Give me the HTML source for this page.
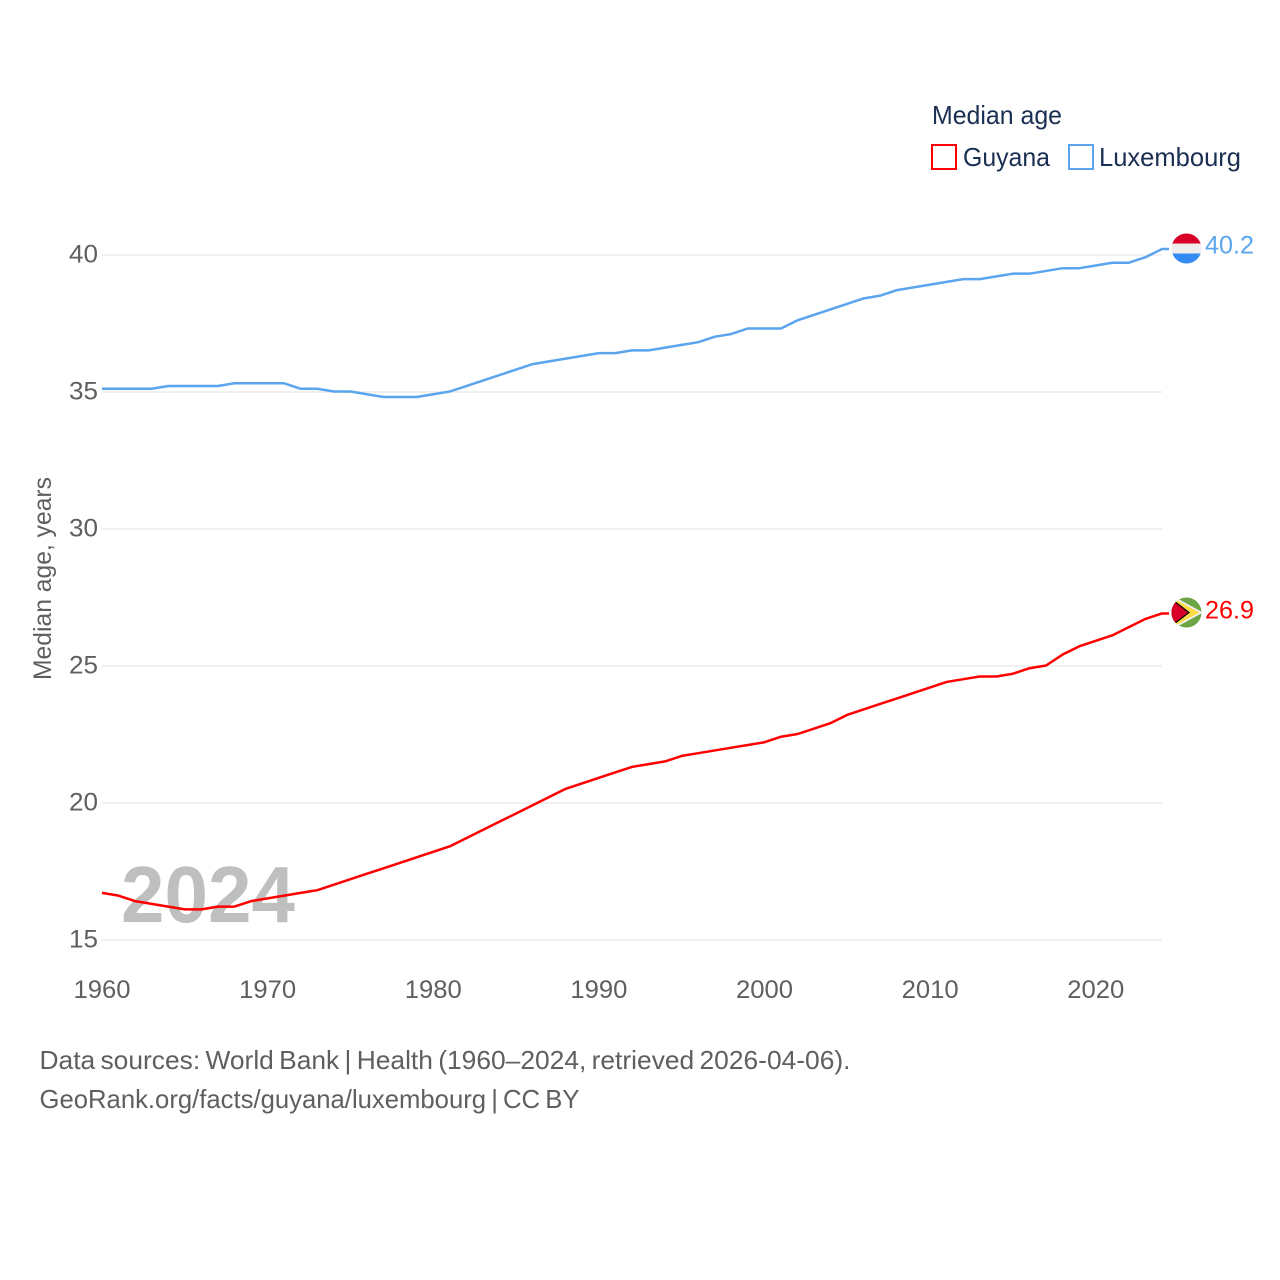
<!DOCTYPE html>
<html>
<head>
<meta charset="utf-8">
<style>
html,body{margin:0;padding:0;background:#fff;width:1280px;height:1280px;overflow:hidden}
svg{display:block}
text{font-family:"Liberation Sans",sans-serif}
</style>
</head>
<body>
<svg id="chart" xmlns="http://www.w3.org/2000/svg" width="1280" height="1280" viewBox="0 0 1280 1280">
  <defs>
    <clipPath id="flag-clip-lu"><circle cx="1186.5" cy="248.500" r="15"/></clipPath>
    <clipPath id="flag-clip-gy"><circle cx="1186.5" cy="612.500" r="15"/></clipPath>
  </defs>
  <g id="grid"></g>
  <g id="yticks"></g>
  <g id="xticks"></g>
  <text transform="translate(51,680) rotate(-90)" font-size="25" fill="#5f5f5f" textLength="203" lengthAdjust="spacingAndGlyphs">Median age, years</text>
  <text x="121" y="922" font-size="80" font-weight="bold" fill="#bfbfbf" textLength="174" lengthAdjust="spacingAndGlyphs">2024</text>
  <g id="series"></g>

  <g clip-path="url(#flag-clip-lu)">
    <rect x="1170" y="233" width="33" height="11" fill="#d80027"/>
    <rect x="1170" y="243.500" width="33" height="10" fill="#eeeeee"/>
    <rect x="1170" y="253.500" width="33" height="11" fill="#338af3"/>
  </g>
  <g clip-path="url(#flag-clip-gy)">
    <rect x="1170" y="597" width="33" height="32" fill="#6da544"/>
    <path d="M1171 595 L1203 612.500 L1171 630 Z" fill="#f0f0f0"/>
    <path d="M1171 597 L1199.500 612.500 L1171 628 Z" fill="#ffda44"/>
    <path d="M1171 598 L1190 612.500 L1171 627 Z" fill="#000000"/>
    <path d="M1171 599.500 L1188 612.500 L1171 625.500 Z" fill="#d80027"/>
  </g>

  <text x="1205" y="253.500" font-size="25" fill="#5ba4ee" textLength="49" lengthAdjust="spacingAndGlyphs">40.2</text>
  <text x="1205" y="618.500" font-size="25" fill="#ff0000" textLength="49" lengthAdjust="spacingAndGlyphs">26.9</text>

  <g>
    <text x="932" y="124" font-size="26" fill="#1a2f52" textLength="130" lengthAdjust="spacingAndGlyphs">Median age</text>
    <rect x="932" y="145" width="24" height="24" fill="#fff" stroke="#ff0000" stroke-width="2"/>
    <text x="963" y="166" font-size="26" fill="#1a2f52" textLength="87" lengthAdjust="spacingAndGlyphs">Guyana</text>
    <rect x="1069" y="145" width="24" height="24" fill="#fff" stroke="#5ba4ee" stroke-width="2"/>
    <text x="1099" y="166" font-size="26" fill="#1a2f52" textLength="142" lengthAdjust="spacingAndGlyphs">Luxembourg</text>
  </g>

  <text x="39.500" y="1069" font-size="26" fill="#5f5f5f" word-spacing="-2" textLength="811" lengthAdjust="spacingAndGlyphs">Data sources: World Bank | Health (1960–2024, retrieved 2026-04-06).</text>
  <text x="39.500" y="1108" font-size="26" fill="#5f5f5f" word-spacing="-2" textLength="540" lengthAdjust="spacingAndGlyphs">GeoRank.org/facts/guyana/luxembourg | CC BY</text>
</svg>
<script>
const years = [1960,1961,1962,1963,1964,1965,1966,1967,1968,1969,1970,1971,1972,1973,1974,1975,1976,1977,1978,1979,1980,1981,1982,1983,1984,1985,1986,1987,1988,1989,1990,1991,1992,1993,1994,1995,1996,1997,1998,1999,2000,2001,2002,2003,2004,2005,2006,2007,2008,2009,2010,2011,2012,2013,2014,2015,2016,2017,2018,2019,2020,2021,2022,2023,2024];
const luxembourgValues = [35.1,35.1,35.1,35.1,35.2,35.2,35.2,35.2,35.3,35.3,35.3,35.3,35.1,35.1,35.0,35.0,34.9,34.8,34.8,34.8,34.9,35.0,35.2,35.4,35.6,35.8,36.0,36.1,36.2,36.3,36.4,36.4,36.5,36.5,36.6,36.7,36.8,37.0,37.1,37.3,37.3,37.3,37.6,37.8,38.0,38.2,38.4,38.5,38.7,38.8,38.9,39.0,39.1,39.1,39.2,39.3,39.3,39.4,39.5,39.5,39.6,39.7,39.7,39.9,40.2];
const guyanaValues = [16.7,16.6,16.4,16.3,16.2,16.1,16.1,16.2,16.2,16.4,16.5,16.6,16.7,16.8,17.0,17.2,17.4,17.6,17.8,18.0,18.2,18.4,18.7,19.0,19.3,19.6,19.9,20.2,20.5,20.7,20.9,21.1,21.3,21.4,21.5,21.7,21.8,21.9,22.0,22.1,22.2,22.4,22.5,22.7,22.9,23.2,23.4,23.6,23.8,24.0,24.2,24.4,24.5,24.6,24.6,24.7,24.9,25.0,25.4,25.7,25.9,26.1,26.4,26.7,26.9];
const yTickValues = [15,20,25,30,35,40];
const xTickValues = [1960,1970,1980,1990,2000,2010,2020];

const SVG_NS = 'http://www.w3.org/2000/svg';
const plotLeft = 102, plotRight = 1162, plotTop = 254.5, plotBottom = 939.5;
function xScale(year) {
  return plotLeft + (year - 1960) * (plotRight - plotLeft) / (2024 - 1960);
}
function yScale(value) {
  return plotBottom - (value - 15) * (plotBottom - plotTop) / (40 - 15);
}

const gridGroup = document.getElementById('grid');
const yTickGroup = document.getElementById('yticks');
const xTickGroup = document.getElementById('xticks');
const seriesGroup = document.getElementById('series');

yTickValues.forEach(function (tick) {
  const gridLine = document.createElementNS(SVG_NS, 'line');
  
  
  gridLine.setAttribute('x1', plotLeft);
  gridLine.setAttribute('x2', plotRight);
  gridLine.setAttribute('y1', yScale(tick) + 0.5);
  gridLine.setAttribute('y2', yScale(tick) + 0.5);
  gridLine.setAttribute('stroke', '#f0f0f0');
  gridLine.setAttribute('stroke-width', '2');
  gridGroup.appendChild(gridLine);

  const label = document.createElementNS(SVG_NS, 'text');
  
  
  label.setAttribute('x', 69);
  label.setAttribute('y', yScale(tick) + 8);
  label.setAttribute('font-size', '25');
  label.setAttribute('fill', '#5f5f5f');
  label.setAttribute('textLength', '29');
  label.setAttribute('lengthAdjust', 'spacingAndGlyphs');
  label.textContent = tick;
  yTickGroup.appendChild(label);
});

xTickValues.forEach(function (tick) {
  const label = document.createElementNS(SVG_NS, 'text');
  
  
  label.setAttribute('x', xScale(tick) - 28.5);
  label.setAttribute('y', 998);
  label.setAttribute('font-size', '25');
  label.setAttribute('fill', '#5f5f5f');
  label.setAttribute('textLength', '57');
  label.setAttribute('lengthAdjust', 'spacingAndGlyphs');
  label.textContent = tick;
  xTickGroup.appendChild(label);
});

function drawSeries(values, color, name) {
  const pts = values.map(function (v, i) {
    return xScale(years[i]).toFixed(2) + ',' + yScale(v).toFixed(2);
  });
  const lastY = yScale(values[values.length - 1]).toFixed(2);
  const line = document.createElementNS(SVG_NS, 'polyline');
  
  
  line.setAttribute('points', pts.join(' ') + ' ' + (plotRight + 7) + ',' + lastY);
  line.setAttribute('fill', 'none');
  line.setAttribute('stroke', color);
  line.setAttribute('stroke-width', '2.5');
  line.setAttribute('stroke-linejoin', 'round');
  seriesGroup.appendChild(line);
}
drawSeries(luxembourgValues, '#5ba4ee', 'luxembourg');
drawSeries(guyanaValues, '#ff0000', 'guyana');
</script>
</body>
</html>
